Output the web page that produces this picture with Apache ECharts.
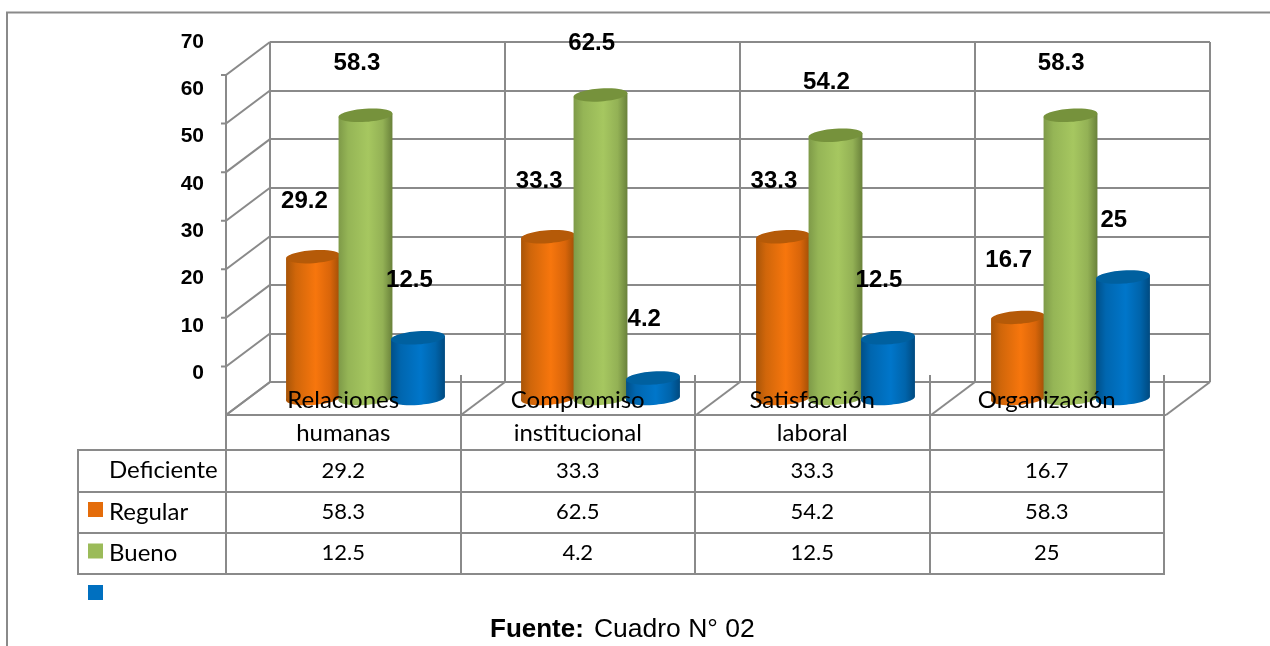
<!DOCTYPE html>
<html>
<head>
<meta charset="utf-8">
<style>html,body{margin:0;padding:0;background:#fff}#chart{width:1270px;height:646px}</style>
<script src="https://cdn.jsdelivr.net/npm/echarts@6/dist/echarts.min.js"></script>
</head>
<body>
<div id="chart"></div>
<script>
// Values for the chart and its data table
const categories = ['Relaciones\nhumanas', 'Compromiso\ninstitucional', 'Satisfacción\nlaboral', 'Organización\n '];
const deficiente = [29.2, 33.3, 33.3, 16.7];
const regular = [58.3, 62.5, 54.2, 58.3];
const bueno = [12.5, 4.2, 12.5, 25];
const rowNames = ['Deficiente', 'Regular', 'Bueno'];
const axisTicks = [0, 10, 20, 30, 40, 50, 60, 70];
const boundaries = [0, 1, 2, 3, 4];

// Oblique projection of the 3D box
const DEPTH_X = -44, DEPTH_Y = 33;
const LINE = '#8a8a8a';
const LINE_W = 2;
const SPACING = 52.5, RX = 27, RY = 6.5, TILT = 0.07;

const looks = [
  { flat: '#E46C0A', top: '#B55A08', stops: ['#A85508', '#D0660A', '#F7760D', '#D9650A', '#A04F06'] },
  { flat: '#9BBB59', top: '#76923C', stops: ['#7E9A48', '#95B556', '#A6C760', '#93B155', '#69813A'] },
  { flat: '#0070C0', top: '#00609F', stops: ['#004F88', '#0066AF', '#0076CA', '#0064AB', '#004A80'] }
];

function bodyGradient(stops) {
  return {
    type: 'linear', x: 0, y: 0, x2: 1, y2: 0,
    colorStops: [0, 0.18, 0.55, 0.82, 1].map((o, i) => ({ offset: o, color: stops[i] }))
  };
}

// One cylinder, standing midway across the depth of the floor
function cylinderRenderer(k) {
  return function (params, api) {
    const i = api.value(0), v = api.value(1);
    const top = api.coord([i, v]), base = api.coord([i, 0]);
    const cx = top[0] + DEPTH_X / 2 + (k - 1) * SPACING;
    const yTop = top[1] + DEPTH_Y / 2, yBase = base[1] + DEPTH_Y / 2;
    const ex = RX * Math.cos(TILT), ey = RX * Math.sin(TILT);
    const fill = bodyGradient(looks[k].stops);
    return {
      type: 'group',
      children: [
        { type: 'ellipse', originX: cx, originY: yBase, rotation: TILT,
          shape: { cx: cx, cy: yBase, rx: RX, ry: RY }, style: { fill: fill } },
        { type: 'polygon',
          shape: { points: [[cx - ex, yTop + ey], [cx + ex, yTop - ey], [cx + ex, yBase - ey], [cx - ex, yBase + ey]] },
          style: { fill: fill } },
        { type: 'ellipse', originX: cx, originY: yTop, rotation: TILT,
          shape: { cx: cx, cy: yTop, rx: RX, ry: RY }, style: { fill: looks[k].top } }
      ]
    };
  };
}

// Value label above a cylinder, read on the label scale of the second grid
function valueLabelRenderer(k) {
  return function (params, api) {
    const p = api.coord([api.value(0), api.value(1)]);
    return {
      type: 'text',
      style: {
        text: String(api.value(1)),
        x: p[0] + 13.6 + (k - 1) * SPACING, y: p[1] - 34,
        align: 'center', verticalAlign: 'middle',
        font: 'bold 24px "Liberation Sans", Arial, sans-serif', fill: '#000'
      }
    };
  };
}

// Side wall: one oblique line per tick, plus the front edge between ticks
function sideWallRenderer(params, api) {
  const v = api.value(1);
  const p = api.coord([0, v]);
  const x = p[0] - api.size([1, 0])[0] / 2, y = p[1];
  const fx = x + DEPTH_X, fy = y + DEPTH_Y;
  const children = [{
    type: 'polyline',
    shape: { points: v === 0 ? [[fx, fy], [x, y]] : [[fx - 5, fy], [fx, fy], [x, y]] },
    style: { stroke: LINE, lineWidth: LINE_W, fill: null }
  }];
  if (v > 0) {
    const below = api.coord([0, v - 10])[1] + DEPTH_Y;
    children.push({ type: 'line', shape: { x1: fx, y1: fy, x2: fx, y2: below },
      style: { stroke: LINE, lineWidth: LINE_W } });
  }
  return { type: 'group', children: children };
}

// Floor: oblique line at each category boundary and the front edge
function floorRenderer(params, api) {
  const b = api.value(0);
  const band = api.size([1, 0])[0];
  const origin = api.coord([0, 0]);
  const x = origin[0] - band / 2 + b * band, y = origin[1];
  const children = [{ type: 'line', shape: { x1: x + DEPTH_X, y1: y + DEPTH_Y, x2: x, y2: y },
    style: { stroke: LINE, lineWidth: LINE_W } }];
  if (b < 4) {
    children.push({ type: 'line', shape: { x1: x + DEPTH_X, y1: y + DEPTH_Y, x2: x + DEPTH_X + band, y2: y + DEPTH_Y },
      style: { stroke: LINE, lineWidth: LINE_W } });
  }
  return { type: 'group', children: children };
}

// Body cell of the data table
function cellRenderer(params, api) {
  const p = api.coord([api.value(0), api.value(1)]);
  return {
    type: 'text',
    style: {
      text: String(api.value(2)), x: p[0], y: p[1],
      align: 'center', verticalAlign: 'middle',
      font: '22px Lato, sans-serif', fill: '#000'
    }
  };
}

const rows = [deficiente, regular, bueno];
const idx = arr => arr.map((v, i) => [i, v]);
const cells = [];
rows.forEach((r, ri) => r.forEach((v, ci) => cells.push([ci, ri, v])));

const series = [
  { type: 'custom', name: 'paredLateral', xAxisIndex: 0, yAxisIndex: 0, silent: true, z: 1, clip: false,
    renderItem: sideWallRenderer, data: axisTicks.map(v => [0, v]) },
  { type: 'custom', name: 'piso', xAxisIndex: 0, yAxisIndex: 0, silent: true, z: 1, clip: false,
    renderItem: floorRenderer, data: boundaries.map(b => [b, 0]) }
];
rowNames.forEach((name, k) => {
  series.push({
    type: 'custom', name: name, xAxisIndex: 0, yAxisIndex: 0, z: 3, clip: false,
    itemStyle: { color: looks[k].flat },
    renderItem: cylinderRenderer(k), data: idx(rows[k])
  });
});
rowNames.forEach((name, k) => {
  series.push({
    type: 'custom', name: name + ' valor', xAxisIndex: 1, yAxisIndex: 1, z: 6, clip: false,
    renderItem: valueLabelRenderer(k), data: idx(rows[k])
  });
});
series.push({
  type: 'custom', name: 'tabla', xAxisIndex: 2, yAxisIndex: 2, z: 6, clip: false,
  renderItem: cellRenderer, data: cells
});

const option = {
  animation: false,
  backgroundColor: '#fff',
  title: {
    left: 490, top: 616, padding: 0,
    text: '{b|Fuente:}  {n|Cuadro N° 02}',
    textStyle: {
      rich: {
        b: { fontFamily: '"Liberation Sans", Arial, sans-serif', fontWeight: 'bold', fontSize: 26, color: '#000' },
        n: { fontFamily: '"Liberation Sans", Arial, sans-serif', fontWeight: 'normal', fontSize: 26.5, color: '#000' }
      }
    }
  },
  legend: {
    orient: 'vertical', left: 88, top: 502,
    data: rowNames, icon: 'rect',
    itemWidth: 15, itemHeight: 15, itemGap: 26.5,
    formatter: () => '', selectedMode: false, padding: 0
  },
  grid: [
    { left: 270, top: 42, width: 940, height: 340 },
    { left: 226, top: 42, width: 939, height: 331 },
    { left: 226, top: 450, width: 938, height: 124, show: true, borderColor: LINE, borderWidth: LINE_W, backgroundColor: 'transparent' },
    { left: 78, top: 450, width: 148, height: 124, show: true, borderColor: LINE, borderWidth: LINE_W, backgroundColor: 'transparent' }
  ],
  xAxis: [
    { gridIndex: 0, type: 'category', data: categories,
      axisLine: { show: false }, axisTick: { show: false }, axisLabel: { show: false },
      splitLine: { show: true, interval: 0, lineStyle: { color: LINE, width: LINE_W } } },
    { gridIndex: 1, type: 'category', data: categories, show: false },
    { gridIndex: 2, type: 'category', data: categories, position: 'top', z: 5,
      axisLine: { show: false },
      axisTick: { show: true, interval: 0, length: 75, lineStyle: { color: LINE, width: LINE_W } },
      axisLabel: { interval: 0, margin: 0, color: '#000', fontFamily: 'Lato, sans-serif', fontSize: 24, lineHeight: 33 },
      splitLine: { show: true, interval: 0, lineStyle: { color: LINE, width: LINE_W } } }
  ],
  yAxis: [
    { gridIndex: 0, type: 'value', min: 0, max: 70, interval: 10,
      axisLine: { show: false }, axisTick: { show: false }, axisLabel: { show: false },
      splitLine: { show: true, lineStyle: { color: LINE, width: LINE_W } } },
    { gridIndex: 1, type: 'value', min: 0, max: 70, interval: 10,
      axisLine: { show: false }, axisTick: { show: false }, splitLine: { show: false },
      axisLabel: { margin: 22, color: '#000', fontFamily: '"Liberation Sans", Arial, sans-serif', fontWeight: 'bold', fontSize: 21 } },
    { gridIndex: 2, type: 'category', data: rowNames, inverse: true, z: 5,
      axisLine: { show: false },
      axisTick: { show: true, interval: 0, length: 148, lineStyle: { color: LINE, width: LINE_W } },
      axisLabel: { align: 'left', margin: 117, interval: 0, color: '#000', fontFamily: 'Lato, sans-serif', fontSize: 24 },
      splitLine: { show: true, interval: 0, lineStyle: { color: LINE, width: LINE_W } } }
  ],
  graphic: [
    // Outer chart frame: only its top and left edges fall inside the page
    { type: 'polyline', z: 0, silent: true,
      shape: { points: [[7, 660], [7, 12.5], [1280, 12.5]] },
      style: { stroke: LINE, lineWidth: 2, fill: null } }
  ],
  series: series
};

const chart = echarts.init(document.getElementById('chart'), null, { renderer: 'canvas' });
chart.setOption(option);
</script>
</body>
</html>
